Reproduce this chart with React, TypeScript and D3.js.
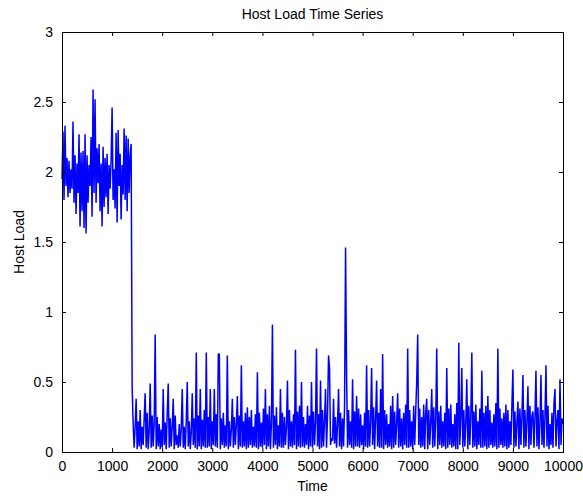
import React, { useEffect, useRef } from "react";
import * as d3 from "d3";

// sampled every 20 time units
const STEP = 20;

// busy phase, t = 0 .. 1380
const highLoad = [
  1.95, 2.29, 1.8, 2.33, 1.9, 2.1, 1.82, 2.08, 1.85, 2.02, 1.88, 2.36, 1.78, 2.12, 1.7, 2.06, 1.85, 2.27, 1.61, 2.14, 1.72, 2.15, 1.6, 2.27, 1.56,
  2.12, 1.78, 2.05, 1.9, 2.25, 1.68, 2.59, 1.85, 2.52, 1.78, 2.17, 1.92, 2.2, 1.72, 2.06, 1.61, 2.18, 1.75, 2.1, 1.82, 2.13, 1.7, 2.05, 1.88, 2.08,
  2.46, 1.8, 2.02, 1.74, 2.28, 1.64, 2.3, 1.9, 2.13, 1.66, 2.05, 1.84, 2.31, 1.8, 2.26, 1.72, 2.24, 1.85, 2.12, 2.2,
];

// idle phase, t = 1400 .. 10000
const lowStart = 1400;
const lowLoad = [
  0.47, 0.2, 0.03, 0.18, 0.38, 0.02, 0.22, 0.04, 0.3, 0.02, 0.18, 0.05, 0.24, 0.42, 0.03, 0.28, 0.02, 0.15, 0.49, 0.03, 0.26, 0.04, 0.2, 0.84, 0.02,
  0.25, 0.04, 0.2, 0.02, 0.16, 0.03, 0.45, 0.05, 0.21, 0.02, 0.27, 0.49, 0.03, 0.24, 0.04, 0.18, 0.38, 0.02, 0.26, 0.05, 0.12, 0.03, 0.2, 0.04, 0.17,
  0.45, 0.03, 0.18, 0.02, 0.22, 0.5, 0.04, 0.22, 0.02, 0.14, 0.42, 0.05, 0.24, 0.03, 0.71, 0.02, 0.26, 0.04, 0.45, 0.02, 0.23, 0.04, 0.3, 0.03, 0.71,
  0.03, 0.25, 0.04, 0.45, 0.02, 0.22, 0.05, 0.45, 0.04, 0.27, 0.03, 0.7, 0.7, 0.02, 0.24, 0.05, 0.28, 0.03, 0.19, 0.04, 0.69, 0.02, 0.22, 0.04, 0.16,
  0.38, 0.03, 0.25, 0.05, 0.2, 0.4, 0.02, 0.26, 0.04, 0.62, 0.03, 0.22, 0.04, 0.28, 0.02, 0.32, 0.03, 0.25, 0.05, 0.3, 0.03, 0.18, 0.04, 0.27, 0.03,
  0.57, 0.02, 0.28, 0.04, 0.21, 0.03, 0.31, 0.05, 0.45, 0.02, 0.27, 0.04, 0.33, 0.02, 0.2, 0.91, 0.03, 0.26, 0.05, 0.32, 0.02, 0.19, 0.04, 0.45, 0.03,
  0.28, 0.03, 0.25, 0.05, 0.18, 0.51, 0.02, 0.3, 0.04, 0.22, 0.03, 0.27, 0.05, 0.73, 0.02, 0.29, 0.04, 0.33, 0.03, 0.5, 0.04, 0.25, 0.03, 0.2, 0.05,
  0.33, 0.02, 0.26, 0.04, 0.5, 0.03, 0.29, 0.05, 0.21, 0.74, 0.04, 0.27, 0.02, 0.51, 0.03, 0.3, 0.04, 0.22, 0.45, 0.03, 0.26, 0.69, 0.6, 0.05, 0.1,
  0.08, 0.38, 0.06, 0.25, 0.03, 0.2, 0.45, 0.04, 0.28, 0.02, 0.24, 0.04, 0.33, 1.46, 0.55, 0.03, 0.3, 0.05, 0.22, 0.03, 0.52, 0.02, 0.29, 0.04, 0.4,
  0.04, 0.31, 0.03, 0.27, 0.05, 0.19, 0.02, 0.28, 0.04, 0.62, 0.03, 0.3, 0.04, 0.22, 0.6, 0.05, 0.32, 0.02, 0.24, 0.51, 0.04, 0.28, 0.03, 0.45, 0.03,
  0.7, 0.02, 0.3, 0.05, 0.27, 0.03, 0.2, 0.04, 0.33, 0.02, 0.4, 0.03, 0.29, 0.05, 0.21, 0.42, 0.03, 0.31, 0.04, 0.24, 0.02, 0.28, 0.05, 0.34, 0.03,
  0.74, 0.03, 0.3, 0.04, 0.22, 0.02, 0.33, 0.05, 0.29, 0.5, 0.84, 0.05, 0.31, 0.03, 0.25, 0.04, 0.34, 0.02, 0.28, 0.38, 0.02, 0.3, 0.05, 0.21, 0.45,
  0.03, 0.32, 0.04, 0.24, 0.74, 0.02, 0.29, 0.05, 0.33, 0.03, 0.22, 0.04, 0.28, 0.02, 0.6, 0.03, 0.31, 0.05, 0.34, 0.03, 0.2, 0.04, 0.27, 0.02, 0.35,
  0.02, 0.78, 0.05, 0.24, 0.6, 0.03, 0.3, 0.04, 0.21, 0.52, 0.02, 0.33, 0.05, 0.25, 0.71, 0.03, 0.29, 0.04, 0.34, 0.02, 0.22, 0.05, 0.31, 0.03, 0.58,
  0.03, 0.28, 0.04, 0.33, 0.02, 0.4, 0.03, 0.3, 0.05, 0.21, 0.03, 0.27, 0.04, 0.35, 0.02, 0.74, 0.03, 0.31, 0.05, 0.24, 0.03, 0.28, 0.04, 0.34, 0.02,
  0.3, 0.03, 0.22, 0.05, 0.33, 0.59, 0.03, 0.29, 0.04, 0.21, 0.36, 0.02, 0.31, 0.05, 0.25, 0.55, 0.03, 0.3, 0.04, 0.22, 0.47, 0.02, 0.33, 0.05, 0.26,
  0.29, 0.03, 0.24, 0.58, 0.04, 0.32, 0.02, 0.21, 0.55, 0.05, 0.3, 0.03, 0.25, 0.62, 0.04, 0.33, 0.02, 0.2, 0.05, 0.28, 0.03, 0.35, 0.45, 0.04, 0.22,
  0.3, 0.02, 0.52, 0.05, 0.24, 0.2,
];

const xTicks = [0, 1000, 2000, 3000, 4000, 5000, 6000, 7000, 8000, 9000, 10000];
const yTicks = [0, 0.5, 1, 1.5, 2, 2.5, 3];

const W = 583;
const H = 499;
const FONT = "'Liberation Sans', Arial, sans-serif";

export default function App() {
  const svgRef = useRef<SVGSVGElement>(null);

  useEffect(() => {
    const margin = { top: 32, right: 20, bottom: 47, left: 62 };
    const w = W - margin.left - margin.right;
    const h = H - margin.top - margin.bottom;
    const svg = d3.select(svgRef.current);
    svg.selectAll("*").remove();

    const x = d3.scaleLinear().domain([0, 10000]).range([0, w]);
    const y = d3.scaleLinear().domain([0, 3]).range([h, 0]);

    const series = [
      ...highLoad.map((v, i) => ({ t: i * STEP, v })),
      ...lowLoad.map((v, i) => ({ t: lowStart + i * STEP, v })),
    ];

    const g = svg.append("g").attr("transform", `translate(${margin.left},${margin.top})`);

    g.append("rect").attr("width", w).attr("height", h).attr("fill", "white");

    const line = d3
      .line<{ t: number; v: number }>()
      .x((d) => x(d.t))
      .y((d) => y(d.v));

    g.append("path")
      .attr("d", line(series))
      .attr("fill", "none")
      .attr("stroke", "#0000ff")
      .attr("stroke-width", 1.5)
      .attr("stroke-linejoin", "bevel");

    // axes, ticks pointing inward on all four sides
    const styleAxis = (sel: any) => {
      sel.select(".domain").remove();
      sel.selectAll(".tick line").attr("stroke", "#000");
      sel.selectAll("text").attr("font-family", FONT).attr("font-size", 14).attr("fill", "#000");
    };

    g.append("g")
      .attr("transform", `translate(0,${h})`)
      .call(d3.axisBottom(x).tickValues(xTicks).tickSize(-4).tickPadding(9).tickFormat(d3.format("d")))
      .call(styleAxis);
    g.append("g")
      .call(d3.axisTop(x).tickValues(xTicks).tickSize(-4).tickFormat(() => ""))
      .call(styleAxis);
    g.append("g")
      .call(d3.axisLeft(y).tickValues(yTicks).tickSize(-4).tickPadding(9).tickFormat(d3.format("")))
      .call(styleAxis);
    g.append("g")
      .attr("transform", `translate(${w},0)`)
      .call(d3.axisRight(y).tickValues(yTicks).tickSize(-4).tickFormat(() => ""))
      .call(styleAxis);

    g.append("rect")
      .attr("width", w)
      .attr("height", h)
      .attr("fill", "none")
      .attr("stroke", "#000")
      .attr("stroke-width", 1)
      .attr("shape-rendering", "crispEdges");

    svg.append("text")
      .attr("x", margin.left + w / 2)
      .attr("y", 19)
      .attr("text-anchor", "middle")
      .attr("font-family", FONT)
      .attr("font-size", 14)
      .text("Host Load Time Series");

    svg.append("text")
      .attr("x", margin.left + w / 2)
      .attr("y", 491)
      .attr("text-anchor", "middle")
      .attr("font-family", FONT)
      .attr("font-size", 14)
      .text("Time");

    svg.append("text")
      .attr("transform", `translate(24,${margin.top + h / 2}) rotate(-90)`)
      .attr("text-anchor", "middle")
      .attr("font-family", FONT)
      .attr("font-size", 14)
      .text("Host Load");
  }, []);

  return (
    <svg
      ref={svgRef}
      width={W}
      height={H}
      style={{ position: "absolute", left: 0, top: 0, background: "white" }}
    />
  );
}
